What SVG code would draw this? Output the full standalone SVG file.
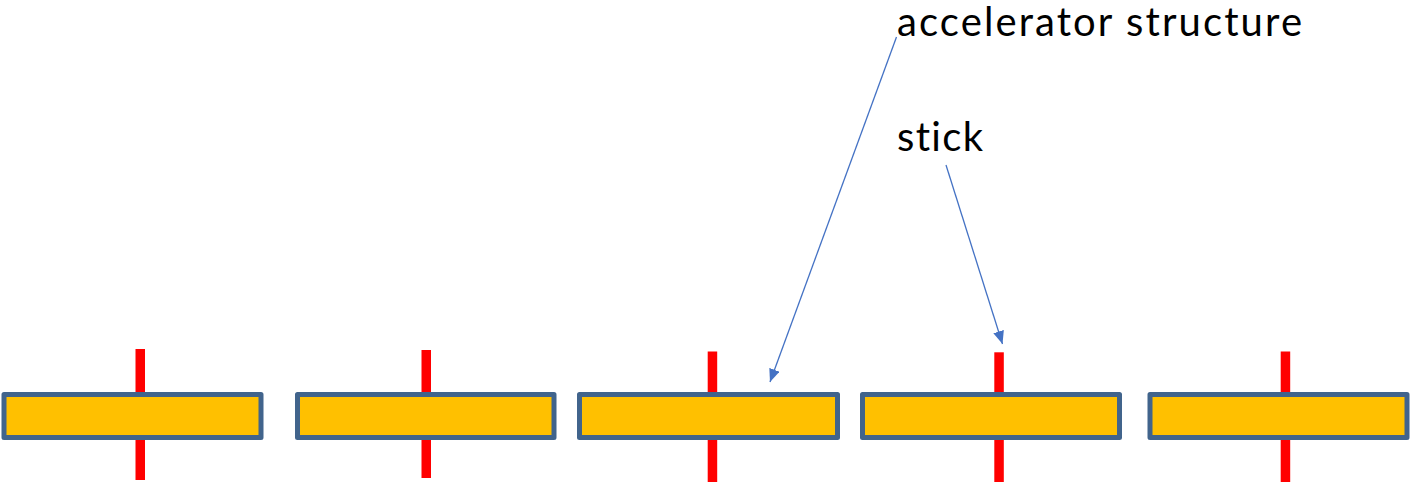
<svg xmlns="http://www.w3.org/2000/svg" width="1410" height="482" viewBox="0 0 1410 482">
  <style>
    .stick { fill: #FF0000; }
    .structure { fill: #FFC000; stroke: #41648C; stroke-width: 5; stroke-linejoin: round; }
    .label { font-family: Lato, "Open Sans", "Liberation Sans", sans-serif; font-size: 40px; fill: #000; font-variant-ligatures: none; }
    .pointer { fill: none; stroke: #4472C4; stroke-width: 1.3; }
  </style>
  <defs>
    <marker id="head" viewBox="0 0 13 11" refX="13" refY="5.5" markerWidth="13" markerHeight="11" markerUnits="userSpaceOnUse" orient="auto">
      <path d="M0,0 L13,5.5 L0,11 Z" fill="#4472C4"/>
    </marker>
  </defs>

  <!-- accelerator structures with supporting sticks -->
  <g id="unit1">
    <rect class="stick" x="135.5" y="349" width="9.5" height="131"/>
    <rect class="structure" x="4" y="394.5" width="257" height="43"/>
  </g>
  <g id="unit2">
    <rect class="stick" x="421.5" y="350" width="9.5" height="128"/>
    <rect class="structure" x="297.5" y="394.5" width="256.5" height="43"/>
  </g>
  <g id="unit3">
    <rect class="stick" x="707.7" y="351.5" width="9.5" height="131"/>
    <rect class="structure" x="579.5" y="394.5" width="258" height="43"/>
  </g>
  <g id="unit4">
    <rect class="stick" x="994.3" y="352.3" width="9.5" height="130"/>
    <rect class="structure" x="862.5" y="394.5" width="257" height="43"/>
  </g>
  <g id="unit5">
    <rect class="stick" x="1280.7" y="351.5" width="9.5" height="131"/>
    <rect class="structure" x="1150" y="394.5" width="257" height="43"/>
  </g>

  <!-- labels -->
  <g id="label-structure">
    <text class="label" x="897" y="36" textLength="405">accelerator structure</text>
  </g>
  <g id="label-stick">
    <text class="label" x="897" y="151" textLength="86">stick</text>
  </g>

  <!-- pointers -->
  <g id="connectors">
    <line class="pointer" x1="896.5" y1="37" x2="770" y2="382" marker-end="url(#head)"/>
    <line class="pointer" x1="946" y1="165" x2="1002.5" y2="344" marker-end="url(#head)"/>
  </g>
</svg>
